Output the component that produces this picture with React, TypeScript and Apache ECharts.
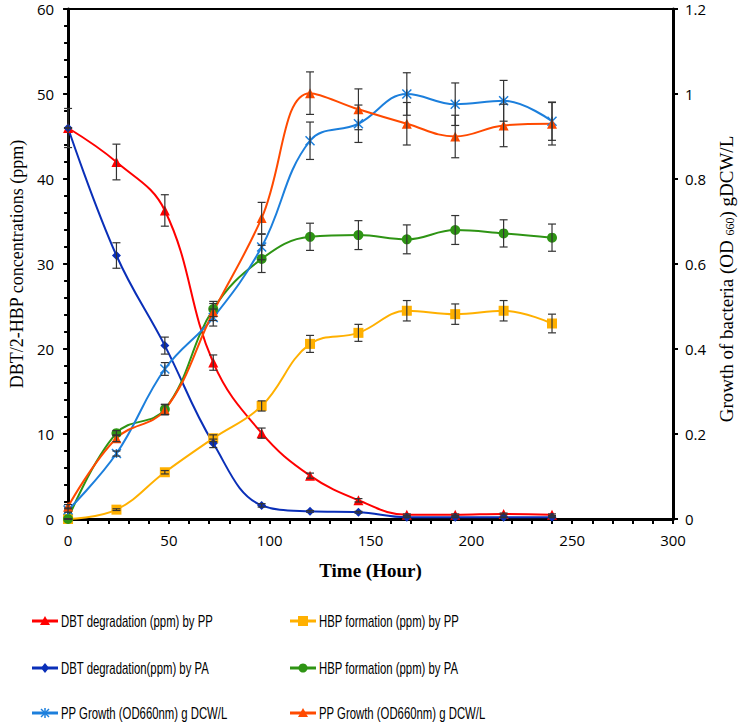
import React, { useEffect, useRef } from "react";
import * as echarts from "echarts";

const hours = [0, 24, 48, 72, 96, 120, 144, 168, 192, 216, 240];

const dbtPP = [46, 42, 36.3, 18.4, 10.1, 5.1, 2.2, 0.5, 0.5, 0.6, 0.5];
const dbtPPErr = [2.3, 2.1, 1.85, 0.9, 0.6, 0.3, 0.2, 0.1, 0.1, 0.1, 0.1];
const dbtPA = [46, 31, 20.4, 8.9, 1.6, 0.9, 0.8, 0.2, 0.2, 0.2, 0.2];
const dbtPAErr = [0, 1.5, 1.0, 0.5, 0.2, 0.1, 0.1, 0.05, 0.05, 0.05, 0.05];
const hbpPP = [0, 1.1, 5.5, 9.5, 13.3, 20.6, 21.9, 24.5, 24.1, 24.5, 23.0];
const hbpPPErr = [0, 0.1, 0.2, 0.4, 0.6, 1.0, 1.0, 1.2, 1.2, 1.2, 1.1];
const hbpPA = [0, 10.1, 12.9, 24.7, 30.6, 33.2, 33.4, 32.9, 34.0, 33.6, 33.1];
const hbpPAErr = [0, 0.3, 0.6, 0.9, 1.6, 1.6, 1.7, 1.7, 1.7, 1.6, 1.6];
const growthPPa = [0.021, 0.154, 0.353, 0.474, 0.64, 0.89, 0.93, 1.0, 0.976, 0.984, 0.936];
const growthPPaErr = [0.005, 0.006, 0.015, 0.02, 0.03, 0.044, 0.044, 0.05, 0.05, 0.048, 0.045];
const growthPPb = [0.029, 0.19, 0.257, 0.487, 0.708, 1.002, 0.964, 0.93, 0.9, 0.926, 0.93];
const growthPPbErr = [0.005, 0.008, 0.012, 0.02, 0.037, 0.05, 0.048, 0.05, 0.05, 0.05, 0.05];

const names = [
  "DBT degradation (ppm) by PP",
  "HBP formation (ppm) by PP",
  "DBT degradation(ppm) by PA",
  "HBP formation (ppm) by PA",
  "PP Growth (OD660nm) g DCW/L",
  "PP Growth (OD660nm) g DCW/L ",
];
const colors = ["#FF0000", "#FFB000", "#0A2FB8", "#2E9414", "#1C7FDC", "#FF4A00"];
const markers = ["triangle", "rect", "diamond", "circle", "asterisk", "triangle"];

const xTicks = [0, 50, 100, 150, 200, 250, 300];

const asteriskPath = "path://M0,0L10,10M10,0L0,10M5,0L5,10";

function pairs(vals: number[]) {
  return hours.map((h, i) => [h, vals[i]]);
}
function errData(vals: number[], errs: number[]) {
  return hours.map((h, i) => [h, vals[i] - errs[i], vals[i] + errs[i]]);
}

function errSeries(vals: number[], errs: number[], yAxisIndex: number) {
  return {
    type: "custom",
    coordinateSystem: "cartesian2d",
    yAxisIndex,
    z: 4,
    silent: true,
    data: errData(vals, errs),
    renderItem: (params: any, api: any) => {
      const x = api.value(0);
      const lo = api.coord([x, api.value(1)]);
      const hi = api.coord([x, api.value(2)]);
      const cap = 4;
      const st = { stroke: "#333", lineWidth: 1.2 };
      return {
        type: "group",
        children: [
          { type: "line", shape: { x1: lo[0], y1: lo[1], x2: hi[0], y2: hi[1] }, style: st },
          { type: "line", shape: { x1: lo[0] - cap, y1: lo[1], x2: lo[0] + cap, y2: lo[1] }, style: st },
          { type: "line", shape: { x1: hi[0] - cap, y1: hi[1], x2: hi[0] + cap, y2: hi[1] }, style: st },
        ],
      };
    },
  };
}

function symbolOf(m: string) {
  if (m === "asterisk") return asteriskPath;
  return m;
}

function lineSeries(idx: number, vals: number[], size: number, yAxisIndex: number) {
  const color = colors[idx];
  const m = markers[idx];
  return {
    name: names[idx],
    type: "line",
    yAxisIndex,
    smooth: 0.4,
    data: pairs(vals),
    symbol: symbolOf(m),
    symbolSize: size,
    showSymbol: true,
    z: 3,
    lineStyle: { color, width: 2 },
    itemStyle: m === "asterisk" ? { color, borderColor: color, borderWidth: 1.5 } : { color },
  };
}

function markerGraphic(m: string, cx: number, cy: number, color: string) {
  const s = 5;
  if (m === "triangle")
    return { type: "polygon", shape: { points: [[cx, cy - s], [cx + s, cy + s * 0.8], [cx - s, cy + s * 0.8]] }, style: { fill: color } };
  if (m === "rect") return { type: "rect", shape: { x: cx - s, y: cy - s, width: 2 * s, height: 2 * s }, style: { fill: color } };
  if (m === "diamond")
    return { type: "polygon", shape: { points: [[cx, cy - s], [cx + s * 0.8, cy], [cx, cy + s], [cx - s * 0.8, cy]] }, style: { fill: color } };
  if (m === "circle") return { type: "circle", shape: { cx, cy, r: s - 0.5 }, style: { fill: color } };
  return {
    type: "group",
    children: [
      { type: "line", shape: { x1: cx - 4, y1: cy - 4, x2: cx + 4, y2: cy + 4 }, style: { stroke: color, lineWidth: 1.5 } },
      { type: "line", shape: { x1: cx + 4, y1: cy - 4, x2: cx - 4, y2: cy + 4 }, style: { stroke: color, lineWidth: 1.5 } },
      { type: "line", shape: { x1: cx, y1: cy - 5, x2: cx, y2: cy + 5 }, style: { stroke: color, lineWidth: 1.5 } },
    ],
  };
}

function legendGraphics() {
  const colX = [32, 290];
  const rowY = [621, 668, 713];
  const out: any[] = [];
  names.forEach((n, i) => {
    const x0 = colX[i % 2];
    const y0 = rowY[Math.floor(i / 2)];
    out.push({ type: "line", shape: { x1: x0, y1: y0, x2: x0 + 26, y2: y0 }, style: { stroke: colors[i], lineWidth: 3 } });
    out.push(markerGraphic(markers[i], x0 + 13, y0, colors[i]));
    out.push({
      type: "text",
      x: x0 + 29,
      y: y0,
      scaleX: 0.71,
      style: {
        text: n.trim(),
        font: "16px 'Liberation Sans'",
        fill: "#000",
        textVerticalAlign: "middle",
        textAlign: "left",
      },
    });
  });
  return out;
}

export default function App() {
  const ref = useRef<HTMLDivElement>(null);
  useEffect(() => {
    if (!ref.current) return;
    const chart = echarts.init(ref.current, undefined, { renderer: "svg" });
    const tickFont = { fontFamily: "Open Sans", fontSize: 15, color: "#000" };
    chart.setOption({
      animation: false,
      backgroundColor: "#fff",
      grid: { left: 64, right: 76, top: 9, bottom: 206, show: true, borderColor: "#000", borderWidth: 2 },
      xAxis: {
        type: "value",
        min: 0,
        max: 300,
        interval: 50,
        name: "Time (Hour)",
        nameLocation: "middle",
        nameGap: 42,
        nameTextStyle: { fontFamily: "Liberation Serif", fontWeight: "bold", fontSize: 19, color: "#000" },
        axisLine: { lineStyle: { color: "#000", width: 3 } },
        axisTick: { lineStyle: { color: "#000", width: 2 }, length: 5 },
        minorTick: { show: true, splitNumber: 5, length: 5, lineStyle: { color: "#000", width: 2 } },
        splitLine: { show: false },
        axisLabel: { ...tickFont, margin: 13, formatter: (v: number) => (xTicks.includes(v) ? String(v) : "") },
      },
      yAxis: [
        {
          type: "value",
          min: 0,
          max: 60,
          interval: 10,
          name: "DBT/2-HBP concentrations (ppm)",
          nameLocation: "middle",
          nameRotate: 90,
          nameGap: 40,
          nameTextStyle: { fontFamily: "Liberation Serif", fontSize: 18, color: "#000" },
          axisLine: { show: true, lineStyle: { color: "#000", width: 3 } },
          axisTick: { show: true, length: 5, lineStyle: { color: "#000", width: 2 } },
          minorTick: { show: true, splitNumber: 5, length: 4, lineStyle: { color: "#000", width: 2 } },
          splitLine: { show: false },
          axisLabel: { ...tickFont, margin: 14 },
        },
        {
          type: "value",
          min: 0,
          max: 1.2,
          interval: 0.2,
          position: "right",
          name: "{a|Growth of bacteria (OD }{s|660}{a|) gDCW/L}",
          nameLocation: "middle",
          nameRotate: 90,
          nameGap: 44,
          nameTextStyle: {
            padding: [0, 30, 0, 0],
            rich: {
              a: { fontFamily: "Liberation Serif", fontSize: 19, color: "#000" },
              s: { fontFamily: "Liberation Serif", fontSize: 12, color: "#000", verticalAlign: "bottom", padding: [7, 0, 0, 0] },
            },
          },
          axisLine: { show: true, lineStyle: { color: "#000", width: 3 } },
          axisTick: { show: true, length: 5, lineStyle: { color: "#000", width: 2 } },
          splitLine: { show: false },
          axisLabel: { ...tickFont, margin: 12, formatter: (v: number) => String(Math.round(v * 10) / 10) },
        },
      ],
      graphic: legendGraphics(),
      series: [
        lineSeries(0, dbtPP, 10, 0),
        lineSeries(1, hbpPP, 10, 0),
        lineSeries(2, dbtPA, 9, 0),
        lineSeries(3, hbpPA, 10, 0),
        lineSeries(4, growthPPa, 9, 1),
        lineSeries(5, growthPPb, 10, 1),
        errSeries(dbtPP, dbtPPErr, 0),
        errSeries(dbtPA, dbtPAErr, 0),
        errSeries(hbpPP, hbpPPErr, 0),
        errSeries(hbpPA, hbpPAErr, 0),
        errSeries(growthPPa, growthPPaErr, 1),
        errSeries(growthPPb, growthPPbErr, 1),
      ],
    });
    return () => chart.dispose();
  }, []);
  return <div ref={ref} style={{ width: 749, height: 725, position: "absolute", left: 0, top: 0 }} />;
}
